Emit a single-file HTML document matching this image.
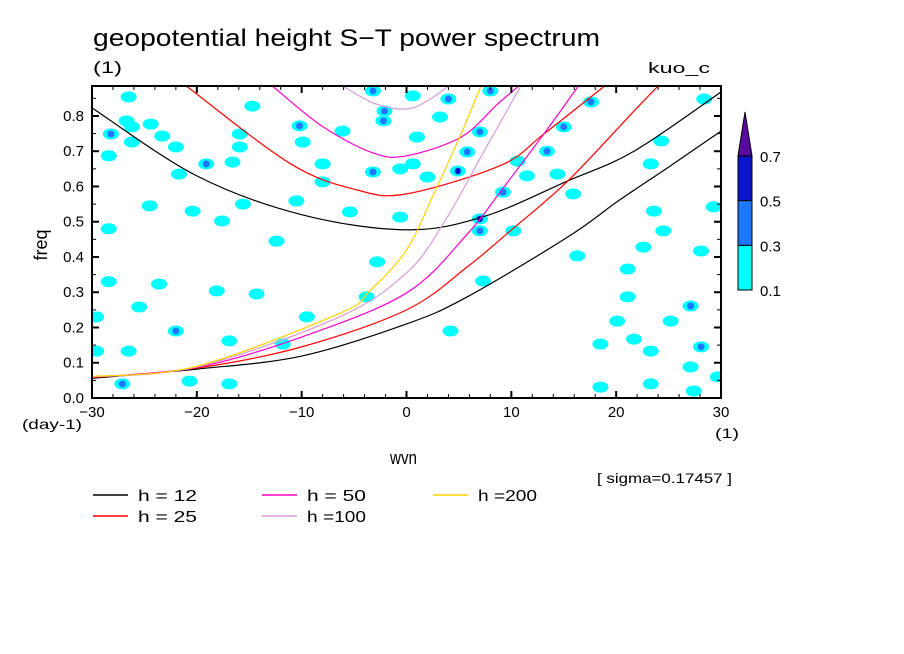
<!DOCTYPE html>
<html><head><meta charset="utf-8">
<style>
body{margin:0;background:#fff;}
svg{display:block;font-family:"Liberation Sans",sans-serif;}
</style></head>
<body>
<svg id="c" width="904" height="654" viewBox="0 0 904 654">
<rect width="904" height="654" fill="#fff"/>
<text x="93" y="46" font-size="24" textLength="507" lengthAdjust="spacingAndGlyphs">geopotential height S−T power spectrum</text>
<text x="93" y="73" font-size="17" textLength="29" lengthAdjust="spacingAndGlyphs">(1)</text>
<text x="648" y="73" font-size="15" textLength="62" lengthAdjust="spacingAndGlyphs">kuo_c</text>
<g id="blobs"></g>
<g id="curves"></g>
<rect x="92" y="86" width="629" height="312" fill="none" stroke="#000" stroke-width="2"/>
<g id="axes"></g>
<text x="47" y="245" font-size="18" text-anchor="middle" transform="rotate(-90 47 245)">freq</text>
<text x="22" y="429" font-size="14" textLength="60" lengthAdjust="spacingAndGlyphs">(day-1)</text>
<text x="715" y="438" font-size="14" textLength="24" lengthAdjust="spacingAndGlyphs">(1)</text>
<text x="390" y="464" font-size="18" textLength="27" lengthAdjust="spacingAndGlyphs">wvn</text>
<text x="597" y="483" font-size="14" textLength="135" lengthAdjust="spacingAndGlyphs">[ sigma=0.17457 ]</text>
<g id="cbar"></g>
<g id="legend"></g>
</svg>
<script>
const xTicks=[-30,-20,-10,0,10,20,30];
const yTicks=[0,0.1,0.2,0.3,0.4,0.5,0.6,0.7,0.8];
const hValues=[12,25,50,100,200];
const hColors=["#000000","#ff0000","#ff00c8","#d79bd7","#ffd200"];
const upperK=[
 [-30,-20,-10,0,7.4,15.4,21.7,30],
 [-21,-11.1,-4.7,0,9,13.1,18.9],
 [-12.8,-8,-3.2,0,5.2,8.7,10.7],
 [-6.1,-3,0,2,4]
];
const upperF=[
 [0.823,0.63,0.52,0.477,0.515,0.616,0.70,0.868],
 [0.885,0.665,0.59,0.579,0.66,0.749,0.885],
 [0.885,0.77,0.695,0.687,0.74,0.834,0.885],
 [0.885,0.835,0.82,0.843,0.885]
];
const lowerK=[
 [-30,-20,-10,0,5.8,15.4,20.2,25,30],
 [-30,-20,-10,0,5.8,9.9,15.4,21.7,24],
 [-30,-20,-10,0,5.8,9,13.1,16.4],
 [-30,-20,-6.4,0,3.5,7.4,10.9],
 [-30,-20,-6.4,-3.5,0,2.6,5.2,7.1]
];
const lowerF=[
 [0.056,0.082,0.119,0.21,0.287,0.457,0.559,0.655,0.757],
 [0.058,0.085,0.145,0.25,0.372,0.474,0.616,0.814,0.885],
 [0.059,0.087,0.173,0.298,0.465,0.587,0.749,0.885],
 [0.06,0.088,0.23,0.355,0.494,0.70,0.885],
 [0.061,0.09,0.24,0.304,0.42,0.579,0.749,0.885]
];
const blobK=[-26.5,-26.7,-28.2,-26.2,-24.4,-23.3,-22,-28.4,-26.2,-19.1,-21.7,-16.6,-15.9,-15.9,-14.7,-10.2,-9.9,-8,-8,-10.5,-5.4,-3.2,-2.2,-2.1,-3.2,-6.1,-0.6,-0.6,-24.5,-20.4,-28.4,-15.6,-17.6,-23.6,-25.5,-28.4,-22,-26.5,-27.1,-20.7,-16.9,-18.1,-14.3,-12.4,-9.5,-3.8,-2.8,-29.6,-29.6,-16.9,-11.8,
 0.6,4,3.2,8,7,1,4.9,2,0.6,5.8,15,17.6,13.4,10.6,9.2,7,7,10.2,14.4,11.5,15.9,23.3,24.3,28.4,23.6,24.5,22.6,16.3,21.1,28.1,29.3,7.3,4.2,21.1,27.1,20.1,25.2,21.7,28.1,23.3,18.5,27.1,18.5,23.3,27.4,29.7];
const blobF=[0.854,0.786,0.749,0.769,0.777,0.743,0.712,0.687,0.726,0.664,0.635,0.669,0.712,0.749,0.828,0.772,0.726,0.664,0.613,0.559,0.528,0.641,0.786,0.814,0.871,0.757,0.65,0.513,0.545,0.53,0.48,0.55,0.502,0.323,0.258,0.33,0.19,0.133,0.04,0.048,0.04,0.304,0.295,0.445,0.23,0.287,0.386,0.23,0.133,0.162,0.153,
 0.857,0.848,0.797,0.871,0.755,0.74,0.644,0.627,0.664,0.698,0.769,0.84,0.70,0.672,0.584,0.508,0.474,0.474,0.635,0.63,0.579,0.664,0.729,0.848,0.53,0.474,0.428,0.403,0.366,0.417,0.542,0.332,0.19,0.287,0.261,0.218,0.218,0.167,0.145,0.133,0.153,0.088,0.031,0.04,0.02,0.06];
const blobLevel=[1,1,2,1,1,1,1,1,1,2,1,1,1,1,1,2,1,1,1,1,1,2,2,2,2,1,1,1,1,1,1,1,1,1,1,1,2,1,2,1,1,1,1,1,1,1,1,1,1,1,1,
 1,2,1,2,2,1,3,1,1,2,2,2,2,1,2,3,2,1,1,1,1,1,1,1,1,1,1,1,1,1,1,1,1,1,2,1,1,1,2,1,1,1,1,1,1,1];
const cbarLevels=[0.1,0.3,0.5,0.7];
const cbarColors=["#00ffff","#1e78ff","#0a14c8","#5a0aa0"];

const NS="http://www.w3.org/2000/svg";
const X0=92,X1=721,Y0=398,Y1=86;
function xs(k){return X0+(k+30)/60*(X1-X0);}
function ys(f){return Y0-f/0.885*(Y0-Y1);}
function mk(t,a,p){const e=document.createElementNS(NS,t);for(const n in a)e.setAttribute(n,a[n]);(p||document.getElementById('c')).appendChild(e);return e;}

const bg=document.getElementById('blobs');
const defs=mk('defs',{});
const cp=mk('clipPath',{id:'clip'},defs);mk('rect',{x:X0,y:Y1,width:X1-X0,height:Y0-Y1},cp);
bg.setAttribute('clip-path','url(#clip)');
for(let i=0;i<blobK.length;i++){
  const cx=xs(blobK[i]),cy=ys(blobF[i]);
  const e=mk('ellipse',{cx:cx,cy:cy,rx:8,ry:5.5,fill:'#00ffff'},bg);
  
  
  if(blobLevel[i]>=2){const c=mk('ellipse',{cx:cx,cy:cy,rx:3.5,ry:3.5,fill:'#1e78ff'},bg);
    
    }
  if(blobLevel[i]>=3){const c=mk('ellipse',{cx:cx,cy:cy,rx:2.5,ry:3,fill:'#0a14c8'},bg);
    
    }
}

const cg=document.getElementById('curves');
cg.setAttribute('clip-path','url(#clip)');
function smooth(K,F){
  const p=K.map((k,i)=>[xs(k),ys(F[i])]);
  let d='M'+p[0][0]+','+p[0][1];
  for(let i=0;i<p.length-1;i++){
    const a=p[i-1]||p[i],b=p[i],c=p[i+1],e=p[i+2]||c;
    d+=' C'+(b[0]+(c[0]-a[0])/6)+','+(b[1]+(c[1]-a[1])/6)+' '+(c[0]-(e[0]-b[0])/6)+','+(c[1]-(e[1]-b[1])/6)+' '+c[0]+','+c[1];
  }
  return d;
}
for(let i=0;i<hValues.length;i++){
  if(upperK[i]){const u=mk('path',{d:smooth(upperK[i],upperF[i]),fill:'none',stroke:hColors[i],'stroke-width':1.2},cg);
    
    }
  const l=mk('path',{d:smooth(lowerK[i],lowerF[i]),fill:'none',stroke:hColors[i],'stroke-width':1.2},cg);
  
  
}

const ag=document.getElementById('axes');
for(const k of xTicks){
  const x=xs(k);
  mk('line',{x1:x,y1:Y0,x2:x,y2:Y0-7,stroke:'#000','stroke-width':2},ag);
  mk('line',{x1:x,y1:Y1,x2:x,y2:Y1+7,stroke:'#000','stroke-width':2},ag);
  const t=mk('text',{x:x,y:417,'font-size':15,'text-anchor':'middle'},ag);
  t.textContent=(k<0?'−':'')+Math.abs(k);
  
  
}
for(let k=-28;k<=28;k+=2){if(k%10===0)continue;const x=xs(k);
  mk('line',{x1:x,y1:Y0,x2:x,y2:Y0-4,stroke:'#000','stroke-width':1},ag);
  mk('line',{x1:x,y1:Y1,x2:x,y2:Y1+4,stroke:'#000','stroke-width':1},ag);}
for(const f of yTicks){
  const y=ys(f);
  mk('line',{x1:X0,y1:y,x2:X0+7,y2:y,stroke:'#000','stroke-width':2},ag);
  mk('line',{x1:X1,y1:y,x2:X1-7,y2:y,stroke:'#000','stroke-width':2},ag);
  const t=mk('text',{x:84,y:y+5,'font-size':15,'text-anchor':'end'},ag);
  t.textContent=f.toFixed(1);
  
  
}
for(let f=0.05;f<0.88;f+=0.1){const y=ys(f);
  mk('line',{x1:X0,y1:y,x2:X0+4,y2:y,stroke:'#000'},ag);mk('line',{x1:X1,y1:y,x2:X1-4,y2:y,stroke:'#000'},ag);}

const cb=document.getElementById('cbar');
const CB0=290,CBstep=44.7;
for(let i=0;i<3;i++){
  const r=mk('rect',{x:738,y:CB0-(i+1)*CBstep,width:14,height:CBstep,fill:cbarColors[i],stroke:'#000','stroke-width':1},cb);
  
  
}
const tri=mk('polygon',{points:`738,${CB0-3*CBstep} 752,${CB0-3*CBstep} 745,112`,fill:cbarColors[3],stroke:'#000'},cb);


cbarLevels.forEach((v,i)=>{const t=mk('text',{x:760,y:CB0-i*CBstep+6,'font-size':15},cb);t.textContent=v.toFixed(1);
  
  });

const lg=document.getElementById('legend');
const lpos=[[93,495],[93,516],[262,495],[262,516],[433,495]];
const ltxt=['h = 12','h = 25','h = 50','h =100','h =200'];
for(let i=0;i<hValues.length;i++){
  const [x,y]=lpos[i];
  const l=mk('line',{x1:x,y1:y,x2:x+35,y2:y,stroke:hColors[i],'stroke-width':1.5},lg);
  
  
  const t=mk('text',{x:x+45,y:y+6,'font-size':16,textLength:59,lengthAdjust:'spacingAndGlyphs'},lg);t.textContent=ltxt[i];
  
  
}
</script>
</body></html>
